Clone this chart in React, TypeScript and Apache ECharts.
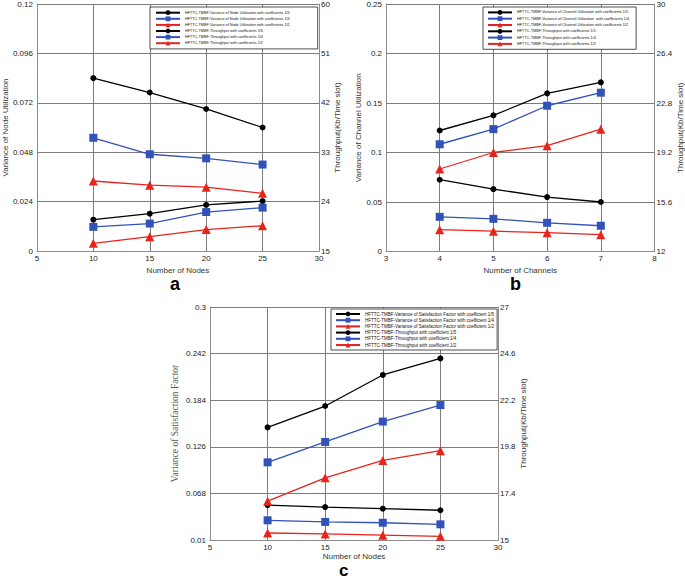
import React, { useEffect, useRef } from 'react';
import * as echarts from 'echarts';

// ---------- data ----------
const nodesX = [10, 15, 20, 25];
const channelsX = [4, 5, 6, 7];

// chart a
const varNode15 = [0.084, 0.077, 0.069, 0.06];
const varNode14 = [0.055, 0.047, 0.045, 0.042];
const varNode12 = [0.034, 0.032, 0.031, 0.028];
const thrA15 = [20.7, 21.8, 23.4, 24.1];
const thrA14 = [19.4, 20.0, 22.1, 22.9];
const thrA12 = [16.4, 17.6, 18.9, 19.6];

// chart b
const varCh15 = [0.0725, 0.063, 0.055, 0.05];
const varCh14 = [0.035, 0.033, 0.029, 0.026];
const varCh12 = [0.022, 0.0205, 0.019, 0.017];
const thrB15 = [20.8, 21.9, 23.5, 24.3];
const thrB14 = [19.8, 20.9, 22.6, 23.55];
const thrB12 = [18.0, 19.2, 19.7, 20.9];

// chart c
const varSat15 = [0.0535, 0.051, 0.049, 0.047];
const varSat14 = [0.0345, 0.0325, 0.0315, 0.0295];
const varSat12 = [0.0187, 0.0175, 0.016, 0.0146];
const thrC15 = [20.8, 21.9, 23.5, 24.35];
const thrC14 = [19.0, 20.05, 21.1, 21.95];
const thrC12 = [17.0, 18.2, 19.1, 19.6];

// tick labels
const aXTicks = [5, 10, 15, 20, 25, 30];
const bXTicks = [3, 4, 5, 6, 7, 8];
const cXTicks = [5, 10, 15, 20, 25, 30];
const aLeftTicks = [0, 0.024, 0.048, 0.072, 0.096, 0.12];
const aRightTicks = [15, 24, 33, 42, 51, 60];
const bLeftTicks = [0, 0.05, 0.1, 0.15, 0.2, 0.25];
const bRightTicks = [12, 15.6, 19.2, 22.8, 26.4, 30];
const cLeftTicks = [0.01, 0.068, 0.126, 0.184, 0.242, 0.3];
const cRightTicks = [15, 17.4, 19.8, 22.2, 24.6, 27];

// legend names
const aNames = [
  'HFTTC-TMBF-Variance of Node Utilization with coefficients 1/5',
  'HFTTC-TMBF-Variance of Node Utilization with coefficients 1/4',
  'HFTTC-TMBF-Variance of Node Utilization with coefficients 1/2',
  'HFTTC-TMBF-Throughput with coefficients 1/5',
  'HFTTC-TMBF-Throughput with coefficients 1/4',
  'HFTTC-TMBF-Throughput with coefficients 1/2',
];
const bNames = [
  'HFTTC-TMBF-Variance of Channel Utilization with coefficients 1/5',
  'HFTTC-TMBF-Variance of Channel Utilization  with coefficients 1/4',
  'HFTTC-TMBF-Variance of Channel Utilization with coefficients 1/2',
  'HFTTC-TMBF-Throughput with coefficients 1/5 ',
  'HFTTC-TMBF-Throughput with coefficients 1/4 ',
  'HFTTC-TMBF-Throughput with coefficients 1/2 ',
];
const cNames = [
  'HFTTC-TMBF-Variance of Satisfaction Factor with coefficient 1/5',
  'HFTTC-TMBF-Variance of Satisfaction Factor with coefficient 1/4',
  'HFTTC-TMBF-Variance of Satisfaction Factor with coefficient 1/2',
  'HFTTC-TMBF-Throughput with coefficient 1/5',
  'HFTTC-TMBF-Throughput with coefficient 1/4',
  'HFTTC-TMBF-Throughput with coefficient 1/2',
];

// ---------- styling ----------
const SANS = 'Liberation Sans, Arial, sans-serif';
const GRID_COLOR = '#7c7c7c';
const AXIS_COLOR = '#8c8c8c';
const COLORS = ['#000000', '#3152b8', '#e8231b'];
const SYMBOLS = ['circle', 'rect', 'triangle'];
const SIZES = [6, 8, 9];

const pair = (xs: number[], ys: number[]) => xs.map((x, i) => [x, ys[i]]);
const fmt = (v: number) => String(+Number(v).toFixed(4));

function lineSeries(name: string, xIdx: number, yIdx: number, xs: number[], ys: number[], k: number) {
  return {
    type: 'line',
    name,
    xAxisIndex: xIdx,
    yAxisIndex: yIdx,
    data: pair(xs, ys),
    symbol: SYMBOLS[k],
    symbolSize: SIZES[k],
    lineStyle: { color: COLORS[k], width: 1.3 },
    itemStyle: { color: COLORS[k] },
    z: 3,
  };
}

function xAxis(gridIndex: number, ticks: number[], name: string, nameGap: number) {
  return {
    type: 'value',
    gridIndex,
    min: ticks[0],
    max: ticks[ticks.length - 1],
    name,
    nameLocation: 'middle',
    nameGap,
    nameTextStyle: { fontSize: 8, color: '#333', fontFamily: SANS },
    axisLine: { show: true, onZero: false, lineStyle: { color: AXIS_COLOR, width: 1 } },
    axisTick: { show: false, customValues: ticks },
    axisLabel: { customValues: ticks, fontSize: 8, color: '#222', fontFamily: SANS, margin: 3, formatter: fmt },
    splitLine: { show: true, lineStyle: { color: GRID_COLOR, width: 1 } },
  };
}

function yAxis(
  gridIndex: number,
  ticks: number[],
  name: string,
  nameGap: number,
  position: 'left' | 'right',
  nameStyle: any = {}
) {
  return {
    type: 'value',
    gridIndex,
    position,
    min: ticks[0],
    max: ticks[ticks.length - 1],
    name,
    nameLocation: 'middle',
    nameGap,
    nameTextStyle: { fontSize: 8, color: '#333', fontFamily: SANS, ...nameStyle },
    axisLine: { show: true, onZero: false, lineStyle: { color: AXIS_COLOR, width: 1 } },
    axisTick: { show: false, customValues: ticks },
    axisLabel: {
      customValues: ticks,
      fontSize: 8,
      color: '#222',
      fontFamily: SANS,
      margin: position === 'left' ? 4 : 2,
      formatter: fmt,
    },
    splitLine: { show: position === 'left', lineStyle: { color: GRID_COLOR, width: 1 } },
  };
}

function legend(names: string[], left: number, top: number, fontSize: number, padding: number[], gap: number) {
  return {
    data: names,
    orient: 'vertical',
    left,
    top,
    itemWidth: 24,
    itemHeight: 6,
    itemGap: gap,
    padding,
    borderColor: '#222',
    borderWidth: 0.8,
    backgroundColor: '#ffffff',
    textStyle: { fontSize, color: '#111', fontFamily: SANS },
    selectedMode: false,
    z: 10,
  };
}

export default function App() {
  const ref = useRef<HTMLDivElement>(null);

  useEffect(() => {
    if (!ref.current) return;
    const chart = echarts.init(ref.current, null, { renderer: 'svg' });

    const option: any = {
      animation: false,
      backgroundColor: '#ffffff',
      grid: [
        { left: 35, top: 3, width: 284, height: 248 },
        { left: 386, top: 3, width: 272, height: 248.5 },
        { left: 210, top: 307, width: 288, height: 233 },
      ],
      xAxis: [
        xAxis(0, aXTicks, 'Number of Nodes', 15),
        xAxis(1, bXTicks, 'Number of Channels', 15),
        xAxis(2, cXTicks, 'Number of Nodes', 12),
      ],
      yAxis: [
        yAxis(0, aLeftTicks, 'Variance of Node Utilization', 26, 'left'),
        yAxis(0, aRightTicks, 'Throughput(Kb/Time slot)', 14, 'right'),
        yAxis(1, bLeftTicks, 'Variance of Channel Utilization', 24, 'left'),
        yAxis(1, bRightTicks, 'Throughput(Kb/Time slot)', 20, 'right'),
        yAxis(2, cLeftTicks, 'Variance of Satisfaction Factor', 30, 'left', {
          fontFamily: 'Liberation Serif, Times New Roman, serif',
          fontSize: 9.5,
          color: '#555',
        }),
        yAxis(2, cRightTicks, 'Throughput(Kb/Time slot)', 18, 'right'),
      ],
      legend: [
        legend(aNames, 150, 7, 3.75, [3.3, 28, 3.3, 5], 1.3),
        legend(bNames, 483, 7, 3.8, [3, 7, 3, 4], 1.5),
        legend(cNames, 331, 309, 4.5, [2.5, 3, 2.5, 4], 1.2),
      ],
      graphic: [
        { type: 'text', left: 170, top: 275, style: { text: 'a', fontSize: 18, fontWeight: 'bold', fontFamily: SANS, fill: '#000' } },
        { type: 'text', left: 510, top: 275, style: { text: 'b', fontSize: 18, fontWeight: 'bold', fontFamily: SANS, fill: '#000' } },
        { type: 'text', left: 339, top: 562, style: { text: 'c', fontSize: 17, fontWeight: 'bold', fontFamily: SANS, fill: '#000' } },
      ],
      series: [
        lineSeries(aNames[0], 0, 0, nodesX, varNode15, 0),
        lineSeries(aNames[1], 0, 0, nodesX, varNode14, 1),
        lineSeries(aNames[2], 0, 0, nodesX, varNode12, 2),
        lineSeries(aNames[3], 0, 1, nodesX, thrA15, 0),
        lineSeries(aNames[4], 0, 1, nodesX, thrA14, 1),
        lineSeries(aNames[5], 0, 1, nodesX, thrA12, 2),

        lineSeries(bNames[0], 1, 2, channelsX, varCh15, 0),
        lineSeries(bNames[1], 1, 2, channelsX, varCh14, 1),
        lineSeries(bNames[2], 1, 2, channelsX, varCh12, 2),
        lineSeries(bNames[3], 1, 3, channelsX, thrB15, 0),
        lineSeries(bNames[4], 1, 3, channelsX, thrB14, 1),
        lineSeries(bNames[5], 1, 3, channelsX, thrB12, 2),

        lineSeries(cNames[0], 2, 4, nodesX, varSat15, 0),
        lineSeries(cNames[1], 2, 4, nodesX, varSat14, 1),
        lineSeries(cNames[2], 2, 4, nodesX, varSat12, 2),
        lineSeries(cNames[3], 2, 5, nodesX, thrC15, 0),
        lineSeries(cNames[4], 2, 5, nodesX, thrC14, 1),
        lineSeries(cNames[5], 2, 5, nodesX, thrC12, 2),
      ],
    };

    chart.setOption(option);
    return () => chart.dispose();
  }, []);

  return (
    <div
      ref={ref}
      style={{ position: 'absolute', left: 0, top: 0, width: 685, height: 579, background: '#fff' }}
    />
  );
}
